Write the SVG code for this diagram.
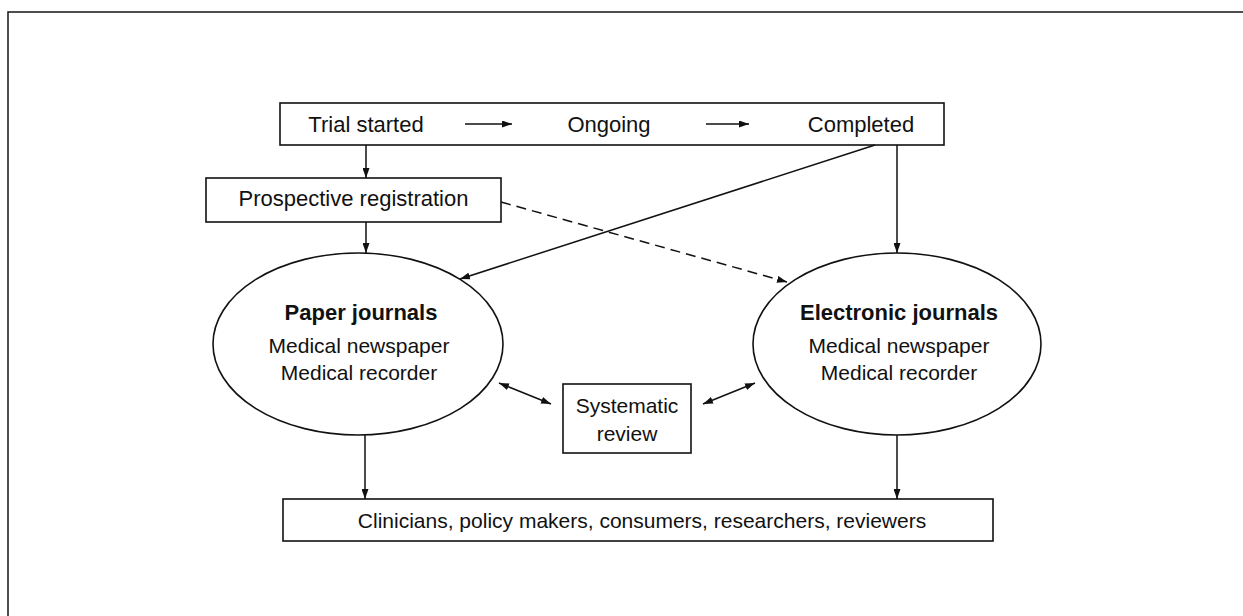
<svg xmlns="http://www.w3.org/2000/svg" width="1243" height="616" viewBox="0 0 1243 616">
<style>
.box{fill:#fff;stroke:#111;stroke-width:1.6}
.t{font-family:"Liberation Sans",Arial,sans-serif;font-size:21px;fill:#111;text-anchor:middle}
.b{font-weight:bold;font-size:22px}
.c{stroke:#111;stroke-width:1.5;fill:none}
.d{stroke-dasharray:10 6}
</style>
<defs>
<marker id="ah" viewBox="0 0 10 7" refX="10" refY="3.5" markerWidth="10" markerHeight="7" markerUnits="userSpaceOnUse" orient="auto-start-reverse">
<path d="M0,0 L10,3.5 L0,7 z" fill="#111"/>
</marker>
</defs>
<rect x="8" y="12" width="1400" height="800" fill="none" stroke="#222" stroke-width="1.6"/>
<g id="status">
<rect class="box" x="280" y="103" width="664" height="42"/>
<text class="t" x="366" y="132" style="font-size:22px">Trial started</text>
<text class="t" x="609" y="132" style="font-size:22px">Ongoing</text>
<text class="t" x="861" y="132" style="font-size:22px">Completed</text>
</g>
<g id="prospective">
<rect class="box" x="206" y="178" width="295" height="44"/>
<text class="t" x="353.5" y="206" style="font-size:22px">Prospective registration</text>
</g>
<g id="paper">
<ellipse class="box" cx="358" cy="344" rx="145" ry="91"/>
<text class="t b" x="361" y="320">Paper journals</text>
<text class="t" x="359" y="353">Medical newspaper</text>
<text class="t" x="359" y="380">Medical recorder</text>
</g>
<g id="electronic">
<ellipse class="box" cx="897" cy="344" rx="144" ry="91"/>
<text class="t b" x="899" y="320">Electronic journals</text>
<text class="t" x="899" y="353">Medical newspaper</text>
<text class="t" x="899" y="380">Medical recorder</text>
</g>
<g id="systematic">
<rect class="box" x="563" y="384" width="128" height="69"/>
<text class="t" x="627" y="413">Systematic</text>
<text class="t" x="627" y="441">review</text>
</g>
<g id="users">
<rect class="box" x="283" y="499" width="710" height="42"/>
<text class="t" x="642" y="528">Clinicians, policy makers, consumers, researchers, reviewers</text>
</g>
<g id="connectors">
<line class="c" x1="465" y1="124" x2="512" y2="124" marker-end="url(#ah)"/>
<line class="c" x1="706" y1="124" x2="749" y2="124" marker-end="url(#ah)"/>
<line class="c" x1="366" y1="145" x2="366" y2="178" marker-end="url(#ah)"/>
<line class="c" x1="366" y1="222" x2="366" y2="253" marker-end="url(#ah)"/>
<line class="c" x1="875" y1="145" x2="460" y2="279" marker-end="url(#ah)"/>
<line class="c" x1="897" y1="145" x2="897" y2="253" marker-end="url(#ah)"/>
<line class="c d" x1="501" y1="202" x2="787" y2="282" marker-end="url(#ah)"/>
<line class="c" x1="499" y1="383" x2="551" y2="404" marker-start="url(#ah)" marker-end="url(#ah)"/>
<line class="c" x1="703" y1="404" x2="755" y2="383" marker-start="url(#ah)" marker-end="url(#ah)"/>
<line class="c" x1="365" y1="435" x2="365" y2="499" marker-end="url(#ah)"/>
<line class="c" x1="897" y1="435" x2="897" y2="499" marker-end="url(#ah)"/>
</g>
</svg>
